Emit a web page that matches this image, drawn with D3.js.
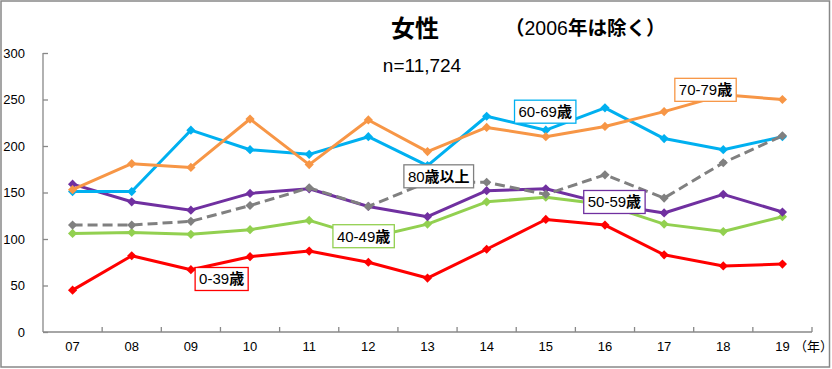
<!DOCTYPE html>
<html><head><meta charset="utf-8">
<script src="https://cdn.jsdelivr.net/npm/d3@7"></script>
<style>
html,body{margin:0;padding:0;background:#fff;}
svg{display:block;font-family:Arial,"Liberation Sans","Noto Sans CJK JP",sans-serif;}
</style></head>
<body>
<svg id="chart" width="832" height="369"></svg>
<script>
const years = ["07","08","09","10","11","12","13","14","15","16","17","18","19"];
const yTicks = [0,50,100,150,200,250,300];
const s0_39  = [45, 82, 67, 81, 87, 75, 58, 89, 121, 115, 83, 71, 73];
const s40_49 = [106,107,105,110,120,101,116,140,145,137,116,108,124];
const s50_59 = [159,140,131,149,154,135,124,152,154,138,128,148,129];
const s60_69 = [151,151,217,196,191,210,179,232,217,241,208,196,210];
const s70_79 = [153,181,177,229,180,228,194,220,210,221,237,255,250];
const s80    = [115,115,119,136,155,135,161,161,148,169,144,182,211];
const seriesNames = ["0-39歳","40-49歳","50-59歳","60-69歳","70-79歳","80歳以上"];
const seriesData = [s0_39,s40_49,s50_59,s60_69,s70_79,s80];

// style / layout
const colors = ["#FF0000","#92D050","#7030A0","#00B0F0","#F79646","#808080"];
const dashes = [null,null,null,null,null,"10,5"];
// label anchors (fractional category index, value)
const labelAnchor = [[2.52,57],[4.92,103],[9.16,139.8],[7.99,236.9],[10.7,260.4],[6.19,167.4]];

const svg = d3.select("#chart");
const L = 43, R = 812, T = 53, B = 332;

svg.append("rect").attr("x",1).attr("y",1).attr("width",828.5).attr("height",366)
  .attr("fill","#fff").attr("stroke","#888").attr("stroke-width",1.5);

const x = d3.scaleBand().domain(years).range([L,R]);
const xi = d3.scaleLinear().domain([-0.5, years.length-0.5]).range([L,R]);
const y = d3.scaleLinear().domain([0,300]).range([B,T]);

// y axis
const yAxis = svg.append("g").attr("transform",`translate(${L},0)`)
  .call(d3.axisRight(y).tickValues(yTicks).tickSize(5).tickFormat(""));
yAxis.select(".domain").attr("stroke","#888").attr("stroke-width",1.3).attr("d",`M0,${T}V${B}`);
yAxis.selectAll(".tick line").attr("stroke","#888").attr("stroke-width",1.3);
svg.append("g").selectAll("text").data(yTicks).join("text")
  .attr("x",25).attr("y",d=>y(d)).attr("dy","0.36em").attr("text-anchor","end")
  .attr("font-size",13).attr("fill","#000").text(d=>d);

// x axis
const xAxisG = svg.append("g").attr("transform",`translate(0,${B})`);
xAxisG.append("line").attr("x1",L).attr("x2",R).attr("stroke","#888").attr("stroke-width",1.3);
xAxisG.selectAll("line.tk").data(d3.range(1,years.length+1)).join("line").attr("class","tk")
  .attr("x1",d=>xi(d-0.5)).attr("x2",d=>xi(d-0.5)).attr("y1",0).attr("y2",-5)
  .attr("stroke","#888").attr("stroke-width",1.3);
xAxisG.selectAll("text").data(years).join("text")
  .attr("x",d=>x(d)+x.bandwidth()/2).attr("y",19).attr("text-anchor","middle")
  .attr("font-size",13).attr("fill","#000").text(d=>d);
svg.append("text").attr("x",794).attr("y",351).attr("font-size",13)
  .attr("font-family","'Noto Sans CJK JP',sans-serif").text("（年）");

// lines
const line = d3.line().x((d,i)=>x(years[i])+x.bandwidth()/2).y(d=>y(d));
const diamond = "M0,-4.6L4.6,0L0,4.6L-4.6,0Z";
seriesData.forEach((data,k)=>{
  const g = svg.append("g");
  g.append("path").datum(data).attr("d",line).attr("fill","none")
    .attr("stroke",colors[k]).attr("stroke-width",3)
    .attr("stroke-dasharray",dashes[k]).attr("stroke-linejoin","round");
  g.selectAll("path.m").data(data).join("path").attr("class","m")
    .attr("d",diamond).attr("fill",colors[k])
    .attr("transform",(d,i)=>`translate(${x(years[i])+x.bandwidth()/2},${y(d)})`);
});

// split text into latin / CJK runs, CJK drawn bolder
function addRuns(t, str){
  const parts = str.match(/[\u3000-\u9fff\uff00-\uffef]+|[^\u3000-\u9fff\uff00-\uffef]+/g);
  parts.forEach(p=>{
    const cjk = /[\u3000-\u9fff\uff00-\uffef]/.test(p);
    t.append("tspan").attr("font-family", cjk ? "'Noto Sans CJK JP',sans-serif" : "Arial,'Liberation Sans',sans-serif")
      .attr("font-weight", cjk ? "bold" : "normal").text(p);
  });
}

// labels
seriesNames.forEach((name,k)=>{
  const cx = xi(labelAnchor[k][0]), cy = y(labelAnchor[k][1]);
  const g = svg.append("g");
  const t = g.append("text").attr("x",cx).attr("y",cy).attr("dy","0.36em")
    .attr("text-anchor","middle").attr("font-size",15).attr("fill","#000");
  addRuns(t, name);
  const bb = t.node().getBBox();
  g.insert("rect","text").attr("x",bb.x-4).attr("y",cy-11.5).attr("width",bb.width+8).attr("height",23)
    .attr("fill","#fff").attr("stroke",colors[k]).attr("stroke-width",1.3);
});

// titles
svg.append("text").attr("x",415).attr("y",37).attr("text-anchor","middle")
  .attr("font-size",24).attr("font-weight","bold")
  .attr("font-family","'Noto Sans CJK JP',sans-serif").text("女性");
const sub = svg.append("text").attr("x",505).attr("y",35).attr("font-size",19.5).attr("fill","#000");
addRuns(sub, "（2006年は除く）");
svg.append("text").attr("x",422).attr("y",72).attr("text-anchor","middle")
  .attr("font-size",19).text("n=11,724");
</script>
</body></html>
